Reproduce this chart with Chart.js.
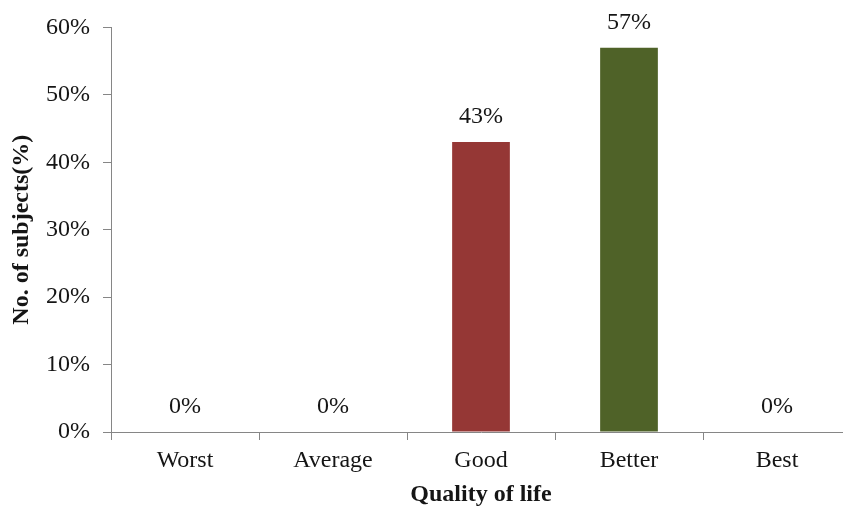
<!DOCTYPE html>
<html>
<head>
<meta charset="utf-8">
<script src="https://cdn.jsdelivr.net/npm/chart.js@4.4.1/dist/chart.umd.min.js"></script>
<style>
  html, body { margin: 0; padding: 0; background: #fff; overflow: hidden; }
  #wrap { width: 852px; height: 510px; }
</style>
</head>
<body>
<div id="wrap"><canvas id="c" width="852" height="510"></canvas></div>
<script>
// Share of subjects by quality-of-life rating
const categories = ['Worst', 'Average', 'Good', 'Better', 'Best'];
const subjectPercent = [0, 0, 43, 57, 0];
const barColors = ['#953735', '#953735', '#953735', '#4F6228', '#953735'];
const yTicks = [0, 10, 20, 30, 40, 50, 60];

const serif = '"Liberation Serif", "Times New Roman", serif';
const axisGray = '#868686';
const textColor = '#151515';
const fontSize = 24;

// Value labels above every bar
const valueLabels = {
  id: 'valueLabels',
  afterDatasetsDraw(chart) {
    const ctx = chart.ctx;
    const meta = chart.getDatasetMeta(0);
    ctx.save();
    ctx.font = fontSize + 'px ' + serif;
    ctx.fillStyle = textColor;
    ctx.textAlign = 'center';
    ctx.textBaseline = 'middle';
    meta.data.forEach((bar, i) => {
      ctx.fillText(subjectPercent[i] + '%', bar.x, bar.y - 25);
    });
    ctx.restore();
  }
};

new Chart(document.getElementById('c'), {
  type: 'bar',
  data: {
    labels: categories,
    datasets: [{
      data: subjectPercent,
      backgroundColor: barColors,
      borderWidth: 0,
      categoryPercentage: 1,
      barPercentage: 0.39
    }]
  },
  options: {
    responsive: false,
    animation: false,
    layout: { padding: { top: 26, right: 1, bottom: 0, left: 0 } },
    plugins: { legend: { display: false }, tooltip: { enabled: false } },
    scales: {
      x: {
        grid: { drawOnChartArea: false, drawTicks: true, tickLength: 8, color: axisGray, offset: true },
        border: { display: true, color: axisGray, width: 1 },
        ticks: { color: textColor, font: { family: serif, size: fontSize }, padding: 6, maxRotation: 0 },
        title: {
          display: true, text: 'Quality of life', color: textColor,
          font: { family: serif, size: fontSize, weight: 'bold' }, padding: { top: 0, bottom: 1 }
        },
        afterFit(scale) { scale.height = 78; }
      },
      y: {
        min: 0, max: 60,
        afterBuildTicks(scale) { scale.ticks = yTicks.map(v => ({ value: v })); },
        grid: { drawOnChartArea: false, drawTicks: true, tickLength: 8, color: axisGray },
        border: { display: true, color: axisGray, width: 1 },
        ticks: {
          color: textColor, font: { family: serif, size: fontSize }, padding: 13,
          callback: v => v + '%'
        },
        title: {
          display: true, text: 'No. of subjects(%)', color: textColor,
          font: { family: serif, size: fontSize, weight: 'bold' }, padding: { top: 7, bottom: 0 }
        },
        afterFit(scale) { scale.width = 111; }
      }
    }
  },
  plugins: [valueLabels]
});
</script>
</body>
</html>
